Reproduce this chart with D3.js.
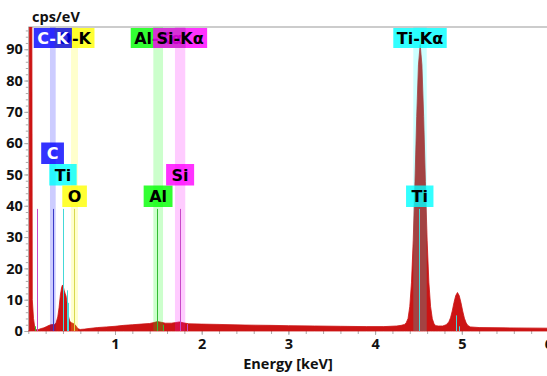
<!DOCTYPE html>
<html><head><meta charset="utf-8">
<script src="https://cdn.jsdelivr.net/npm/d3@7"></script>
<style>
html,body{margin:0;padding:0;background:#fff;}
svg{display:block;}
</style></head><body>
<svg id="chart" width="547" height="376"></svg>
<script>
// EDS spectrum samples: energy (keV) and intensity (cps/eV)
const energy = [0.000,0.010,0.012,0.040,0.046,0.060,0.075,0.090,0.120,0.150,0.180,0.210,0.240,0.270,0.300,0.320,0.340,0.355,0.370,0.385,0.395,0.405,0.415,0.425,0.435,0.445,0.455,0.465,0.480,0.500,0.520,0.540,0.560,0.580,0.600,0.650,0.700,0.800,0.900,1.000,1.100,1.200,1.300,1.400,1.450,1.490,1.530,1.580,1.650,1.700,1.745,1.790,1.850,2.000,2.200,2.500,2.800,3.000,3.300,3.600,3.900,4.100,4.250,4.300,4.340,4.360,4.380,4.400,4.420,4.440,4.460,4.480,4.500,4.520,4.540,4.560,4.580,4.600,4.620,4.640,4.660,4.680,4.700,4.730,4.780,4.820,4.850,4.870,4.890,4.910,4.930,4.950,4.970,4.990,5.010,5.030,5.050,5.070,5.100,5.200,5.500,6.000,6.100];
const cps    = [0,0,120,120,10,4,1,0.4,0.5,0.8,1.0,1.4,1.8,2.1,2.0,2.6,4.5,7.5,11.5,14.0,14.7,14.0,12.8,12.0,11.2,9.5,7.0,4.5,3.0,2.6,2.4,2.0,1.2,0.6,0.5,0.6,0.8,1.1,1.3,1.5,1.8,2.0,2.2,2.4,2.7,3.0,2.8,2.5,2.5,2.7,2.9,2.6,2.3,2.2,2.1,1.9,1.8,1.7,1.6,1.5,1.4,1.4,1.6,1.8,2.1,2.7,4.0,7.8,15.6,29,47.8,68.5,85,91.5,85,68.5,47.8,29,15.6,7.8,3.9,2.3,1.7,1.6,1.6,2.0,2.9,4.2,6.4,9.1,11.3,12.3,11.3,9.1,6.4,4.1,2.6,1.75,1.3,1.1,1.0,0.9,0.9];

const xTickValues = [1,2,3,4,5,6];
const yTickValues = [0,10,20,30,40,50,60,70,80,90];

// regions of interest with their line labels
const roiLabel   = ["O-K","C-K","Al-Kα","Si-Kα","Ti-Kα"];
const roiElement = ["O","C","Al","Si","Ti"];
const roiCenter  = [0.533,0.283,1.498,1.751,4.518];
const roiWidth   = [0.080,0.066,0.112,0.119,0.155];

// characteristic line markers
const markerElement = ["Al","Si","C","Ti","Ti","Ti","O","Al","Al","Si","Si","Ti","Ti","Ti","Ti"];
const markerEnergy  = [0.072,0.095,0.285,0.400,0.452,0.458,0.527,1.487,1.557,1.745,1.836,4.510,4.505,4.932,4.965];
const markerHeight  = [1.5,39,39,39,13,9,39,39,2,39,2.2,39,19.5,5,1.5];

// element labels over the main markers
const elementLabel  = ["C","Ti","O","Al","Si","Ti"];
const elementEnergy = [0.280,0.400,0.534,1.497,1.751,4.515];
const elementTier   = [2,1,0,0,1,0];

const elementColor = {C:"#0000ff", O:"#ffff00", Al:"#00ff00", Si:"#ff00ff", Ti:"#00ffff"};
const elementText  = {C:"#ffffff", O:"#000000", Al:"#000000", Si:"#000000", Ti:"#000000"};
const markerColor  = {C:"#3b3bc8", O:"#d8d850", Al:"#33bb33", Si:"#c848c8", Ti:"#44d8d8"};

const W = 547, H = 376;
const mLeft = 28.3, mRight = 548.5, mTop = 27, mBottom = 331;

const svg = d3.select("#chart");
const x = d3.scaleLinear().domain([0, 6]).range([mLeft, mRight]);
const y = d3.scaleLinear().domain([0, 97.1]).range([mBottom, mTop]);

const axisFont = "'Open Sans', sans-serif";
const labelFont = "'DejaVu Sans', sans-serif";

svg.append("defs").append("clipPath").attr("id", "plot")
  .append("rect").attr("x", mLeft).attr("y", mTop).attr("width", W - mLeft).attr("height", mBottom - mTop + 1);

// frame line along the top
svg.append("line").attr("x1", mLeft).attr("x2", W).attr("y1", mTop).attr("y2", mTop)
  .attr("stroke", "#9a9a9a").attr("stroke-width", 1.2);

// y axis: minor then major ticks
const yMinor = d3.range(0, 97, 2);
svg.append("g").attr("transform", `translate(${mLeft},0)`)
  .call(d3.axisLeft(y).tickValues(yMinor).tickSize(2.5).tickFormat(""))
  .call(g => g.select(".domain").remove())
  .selectAll("line").attr("stroke", "#aaa");
const gy = svg.append("g").attr("transform", `translate(${mLeft},0)`)
  .call(d3.axisLeft(y).tickValues(yTickValues).tickSize(4).tickPadding(1.5));
gy.select(".domain").attr("stroke", "#a8a8a8").attr("d", `M0.5,${mTop}V${mBottom}`);
gy.selectAll("line").attr("stroke", "#aaa");
gy.selectAll("text").attr("font-family", axisFont).attr("font-weight", 700)
  .attr("font-size", "14.5px").attr("fill", "#111");

// x axis
const xMinor = d3.range(0, 6.01, 0.2);
svg.append("g").attr("transform", `translate(0,${mBottom})`)
  .call(d3.axisBottom(x).tickValues(xMinor).tickSize(3).tickFormat(""))
  .call(g => g.select(".domain").remove())
  .selectAll("line").attr("stroke", "#aaa");
const gx = svg.append("g").attr("transform", `translate(0,${mBottom})`)
  .call(d3.axisBottom(x).tickValues(xTickValues).tickSize(4).tickPadding(3.5).tickFormat(d3.format("d")));
gx.select(".domain").remove();
gx.selectAll("line").attr("stroke", "#aaa");
gx.selectAll("text").attr("font-family", axisFont).attr("font-weight", 700)
  .attr("font-size", "14.5px").attr("fill", "#111");

// spectrum
const plot = svg.append("g").attr("clip-path", "url(#plot)");
const area = d3.area()
  .x((d, i) => x(energy[i]))
  .y0(y(0))
  .y1((d, i) => y(cps[i]));
plot.append("path").datum(cps).attr("d", area)
  .attr("fill", "#cc1414").attr("stroke", "#cc1414").attr("stroke-width", 0.8);

// ROI bands
plot.selectAll("rect.roi").data(roiCenter).join("rect").attr("class", "roi")
  .attr("x", (c, i) => x(c - roiWidth[i] / 2))
  .attr("width", (c, i) => x(c + roiWidth[i] / 2) - x(c - roiWidth[i] / 2))
  .attr("y", mTop).attr("height", mBottom - mTop)
  .attr("fill", (c, i) => elementColor[roiElement[i]]).attr("fill-opacity", 0.2);

// line markers
plot.selectAll("line.marker").data(markerEnergy).join("line").attr("class", "marker")
  .attr("x1", e => Math.round(x(e)) + 0.5).attr("x2", e => Math.round(x(e)) + 0.5)
  .attr("y1", (e, i) => y(markerHeight[i])).attr("y2", y(0))
  .attr("stroke", (e, i) => markerColor[markerElement[i]]).attr("stroke-width", 1);

// ROI labels along the top
roiLabel.forEach((t, i) => {
  const g = svg.append("g");
  const rect = g.append("rect");
  const txt = g.append("text").text(t)
    .attr("font-family", labelFont).attr("font-weight", 700).attr("font-size", "16px")
    .attr("text-anchor", "middle").attr("x", x(roiCenter[i])).attr("y", 43.8)
    .attr("fill", elementText[roiElement[i]]);
  const w = txt.node().getComputedTextLength() + 7;
  rect.attr("x", x(roiCenter[i]) - w / 2).attr("y", 28).attr("width", w).attr("height", 20)
    .attr("fill", elementColor[roiElement[i]]).attr("fill-opacity", 0.8);
});

// element labels above the markers
const tierBottom = [207, 185.5, 164];
elementLabel.forEach((t, i) => {
  const g = svg.append("g");
  const rect = g.append("rect");
  const cx = x(elementEnergy[i]);
  const b = tierBottom[elementTier[i]];
  const h = 21.5;
  const txt = g.append("text").text(t)
    .attr("font-family", labelFont).attr("font-weight", 700).attr("font-size", "16px")
    .attr("text-anchor", "middle").attr("x", cx).attr("y", b - h / 2 + 5.9)
    .attr("fill", elementText[t]);
  const w = txt.node().getComputedTextLength() + 11;
  rect.attr("x", cx - w / 2).attr("y", b - h).attr("width", w).attr("height", h)
    .attr("fill", elementColor[t]).attr("fill-opacity", 0.8);
});

// axis titles
svg.append("text").text("cps/eV").attr("x", 32).attr("y", 22)
  .attr("font-family", axisFont).attr("font-weight", 700).attr("font-size", "14.5px").attr("fill", "#111");
svg.append("text").text("Energy [keV]").attr("x", 288).attr("y", 369).attr("text-anchor", "middle")
  .attr("font-family", axisFont).attr("font-weight", 700).attr("font-size", "14.5px").attr("fill", "#111");
</script>
</body></html>
